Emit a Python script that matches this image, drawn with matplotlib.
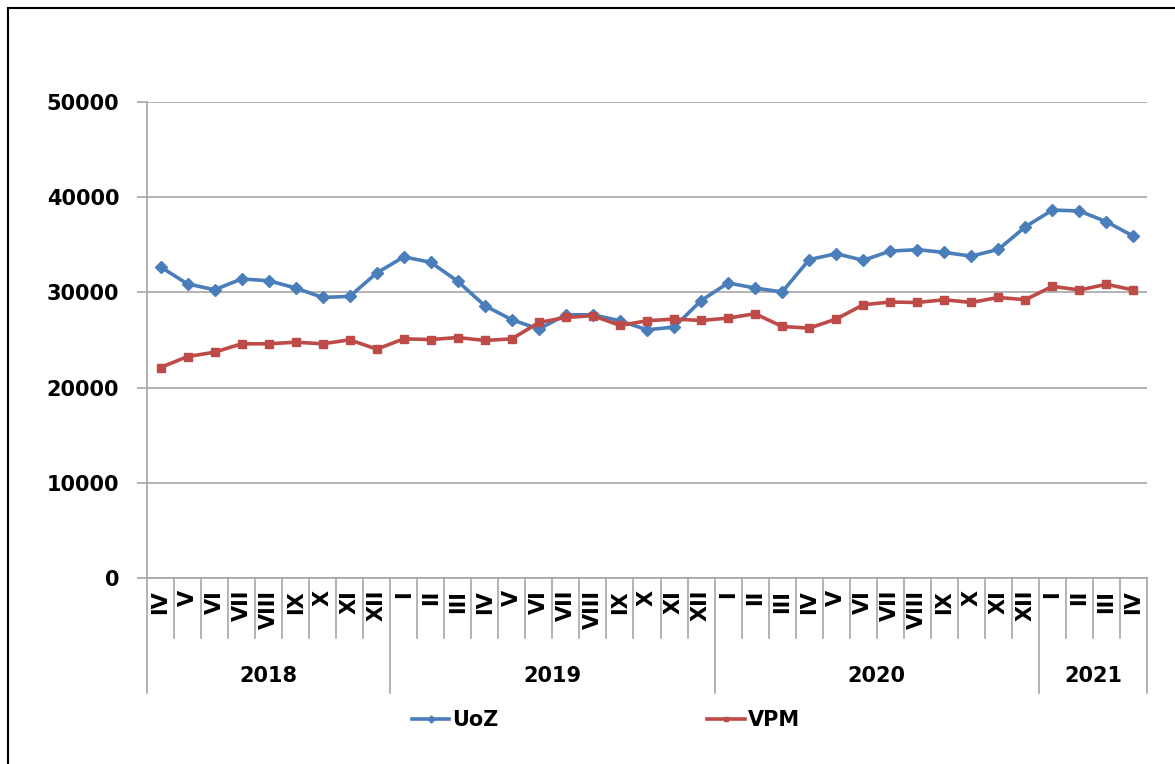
import matplotlib
matplotlib.use("Agg")
import matplotlib.pyplot as plt
import matplotlib.patches as mpatches
import matplotlib.transforms as mtransforms

# monthly values, IV 2018 .. IV 2021
months = ["IV", "V", "VI", "VII", "VIII", "IX", "X", "XI", "XII",
          "I", "II", "III", "IV", "V", "VI", "VII", "VIII", "IX", "X", "XI", "XII",
          "I", "II", "III", "IV", "V", "VI", "VII", "VIII", "IX", "X", "XI", "XII",
          "I", "II", "III", "IV"]
years = ["2018", "2019", "2020", "2021"]
months_per_year = [9, 12, 12, 4]

uoz = [32680, 30890, 30280, 31410, 31230, 30460, 29470, 29580, 32040,
       33730, 33160, 31160, 28600, 27130, 26150, 27650, 27650, 27020, 26070, 26360, 29130,
       30990, 30460, 30040, 33440, 34070, 33370, 34340, 34490, 34200, 33810, 34520, 36890,
       38650, 38550, 37420, 35900]
vpm = [22110, 23260, 23720, 24600, 24600, 24770, 24600, 25020, 24040,
       25120, 25050, 25260, 24950, 25120, 26840, 27370, 27550, 26530, 27020, 27200, 27050,
       27300, 27760, 26420, 26250, 27200, 28700, 28990, 28940, 29230, 28940, 29470, 29230,
       30640, 30250, 30850, 30250]

blue = "#4A7EBB"
red = "#BE4B48"
grid_c = "#A6A6A6"

plt.rcParams['font.family'] = ['DejaVu Sans']
plt.rcParams['font.weight'] = 'bold'

fig = plt.figure(figsize=(11.75, 7.64), dpi=100)
ax = fig.add_axes([147 / 1175, 1 - 578 / 764, 1000 / 1175, 476 / 764])

x = list(range(len(months)))
ax.plot(x, uoz, color=blue, lw=2.6, marker="D", ms=6, label="UoZ", zorder=3)
ax.plot(x, vpm, color=red, lw=2.6, marker="s", ms=6, label="VPM", zorder=3)

ax.set_xlim(-0.5, len(months) - 0.5)
ax.set_ylim(0, 50000)
ax.set_yticks(range(0, 50001, 10000))
ax.yaxis.grid(True, color=grid_c, lw=1.2)
ax.set_axisbelow(True)
for s in ["top", "right"]:
    ax.spines[s].set_visible(False)
for s in ["left", "bottom"]:
    ax.spines[s].set_color(grid_c)
    ax.spines[s].set_linewidth(1.2)
ax.tick_params(axis="y", length=7, width=1.2, color=grid_c, pad=13, labelsize=15)
ax.tick_params(axis="x", length=0, labelbottom=False)
for lab in ax.get_yticklabels():
    lab.set_fontweight("bold")

# category axis: month labels, separators and year groups
tr = mtransforms.blended_transform_factory(ax.transData, ax.transAxes)
short = 60 / 476
long_ = 115 / 476
for i, m in enumerate(months):
    ax.text(i, -12 / 476, m, transform=tr, rotation=90, ha="center", va="top",
            fontsize=15, fontweight="bold")
bounds = [-0.5]
for n in months_per_year:
    bounds.append(bounds[-1] + n)
for b in [i + 0.5 for i in range(-1, len(months))]:
    depth = long_ if b in bounds else short
    ax.plot([b, b], [0, -depth], transform=tr, color=grid_c, lw=1.2, clip_on=False)
for k, yr in enumerate(years):
    mid = (bounds[k] + bounds[k + 1]) / 2
    ax.text(mid, -98 / 476, yr, transform=tr, ha="center", va="center",
            fontsize=15, fontweight="bold")

fig.legend(loc="center", bbox_to_anchor=(606 / 1175, 1 - 720 / 764), ncol=2,
           frameon=False, columnspacing=10, handlelength=1.8,
           handletextpad=0.15, markerscale=0.6, prop={"weight": "bold", "size": 15})

fig.patches.append(mpatches.Rectangle((8 / 1175, -0.1), 1.2, 1.1 - 8 / 764,
                                      transform=fig.transFigure, fill=False,
                                      edgecolor="black", lw=1.5))

fig.savefig("out.png", dpi=100)
